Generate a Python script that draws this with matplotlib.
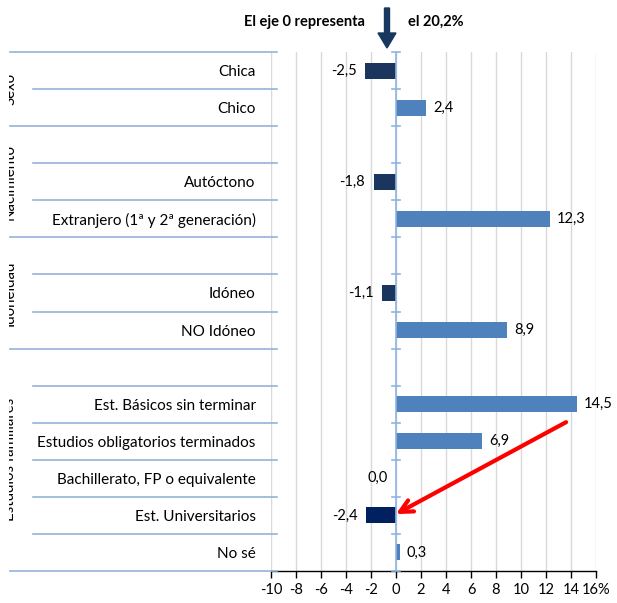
import matplotlib
matplotlib.use("Agg")
import matplotlib.pyplot as plt
import matplotlib.transforms as mtransforms
from matplotlib.patches import FancyArrow
from matplotlib.lines import Line2D

plt.rcParams['font.family'] = ['Lato', 'DejaVu Sans']

# ---- data ----
categories = ["Chica", "Chico", "",
              "Autóctono", "Extranjero (1ª y 2ª generación)", "",
              "Idóneo", "NO Idóneo", "",
              "Est. Básicos sin terminar", "Estudios obligatorios terminados",
              "Bachillerato, FP o equivalente", "Est. Universitarios", "No sé"]
values = [-2.5, 2.4, None, -1.8, 12.3, None, -1.1, 8.9, None, 14.5, 6.9, 0.0, -2.4, 0.3]
value_labels = ["-2,5", "2,4", "", "-1,8", "12,3", "", "-1,1", "8,9", "",
                "14,5", "6,9", "0,0", "-2,4", "0,3"]
groups = ["Sexo", "Nacimiento", "Idoneidad", "Estudios familiares"]
group_spans = [(0, 1), (2, 4), (5, 7), (8, 13)]
xticks = [-10, -8, -6, -4, -2, 0, 2, 4, 6, 8, 10, 12, 14, 16]
xtick_labels = ["-10", "-8", "-6", "-4", "-2", "0", "2", "4", "6", "8", "10", "12", "14", "16%"]

W, H = 617, 603
fig = plt.figure(figsize=(W / 100, H / 100), dpi=100)
ax = fig.add_axes([271 / W, 1 - 571 / H, (596 - 271) / W, (571 - 52) / H])

pos_color = "#4f81bd"
neg_color = "#1a365f"
neg_color2 = "#002060"

rows = list(range(len(categories)))
for i, v in enumerate(values):
    if v is None:
        continue
    if v < 0:
        c = neg_color2 if categories[i] == "Est. Universitarios" else neg_color
    else:
        c = pos_color
    ax.barh(i, v, height=0.43, color=c, zorder=3)
    if value_labels[i]:
        if v > 0:
            ax.annotate(value_labels[i], (v, i), xytext=(5, 0), textcoords="offset points",
                        ha="left", va="center", fontsize=10.5, color="#000000")
        else:
            ax.annotate(value_labels[i], (v, i), xytext=(-6, 0), textcoords="offset points",
                        ha="right", va="center", fontsize=10.5, color="#000000")

ax.set_xlim(-10, 16)
ax.set_ylim(len(categories) - 0.5, -0.5)
ax.set_xticks(xticks)
ax.set_xticklabels(xtick_labels, fontsize=10.5)
ax.tick_params(axis="x", direction="out", length=5, width=1, color="#000000", pad=4)
ax.set_yticks(rows)
ax.set_yticklabels(categories, fontsize=11)
ax.tick_params(axis="y", length=0, pad=11)
ax.grid(axis="x", color="#d9d9d9", lw=1, zorder=0)
ax.set_axisbelow(True)
for s in ["top", "right", "left"]:
    ax.spines[s].set_visible(False)
ax.spines["bottom"].set_color("#000000")
ax.spines["bottom"].set_linewidth(1)

# zero axis with crossing ticks
ax.axvline(0, color="#8eb4e3", lw=1.2, zorder=4)
for k in range(len(categories) + 1):
    ax.plot([-0.33, 0.33], [k - 0.5, k - 0.5], color="#8eb4e3", lw=1.2, zorder=4,
            clip_on=False)

# left category separator lines
trans = mtransforms.blended_transform_factory(fig.transFigure, ax.transData)
group_bounds = {-0.5, 1.5, 4.5, 7.5, 13.5}
for k in range(len(categories) + 1):
    y = k - 0.5
    x0 = 10 / W if y in group_bounds else 33 / W
    fig.add_artist(Line2D([x0, 277 / W], [y, y], transform=trans, color="#95b3d7", lw=1.2))

# group labels (partly cut off, as in the original)
clip = mtransforms.Bbox.from_extents(9, 0, W, H)
for g, (a, b) in zip(groups, group_spans):
    t = fig.text(17 / W, (a + b) / 2, g, transform=trans, rotation=90, ha="right",
                 va="center", fontsize=10.8, color="#000000")
    t.set_clip_box(clip)
    t.set_clip_on(True)

# header text and arrow
fig.text(365 / W, 1 - 22 / H, "El eje 0 representa", ha="right", va="center",
         fontsize=10.5, fontweight="bold")
fig.text(408 / W, 1 - 22 / H, "el 20,2%", ha="left", va="center",
         fontsize=10.5, fontweight="bold")
fig.add_artist(FancyArrow(387 / W, 1 - 8 / H, 0, -40 / H, width=5 / W,
                          head_width=18 / W, head_length=15 / H,
                          length_includes_head=True, transform=fig.transFigure,
                          color="#17375e"))

# red arrow
ax.annotate("", xy=(-0.2, 12.0), xytext=(13.8, 9.45),
            arrowprops=dict(arrowstyle="->,head_length=0.9,head_width=0.45",
                            color="#ff0000", lw=3), zorder=6)

fig.savefig("out.png", dpi=100)
